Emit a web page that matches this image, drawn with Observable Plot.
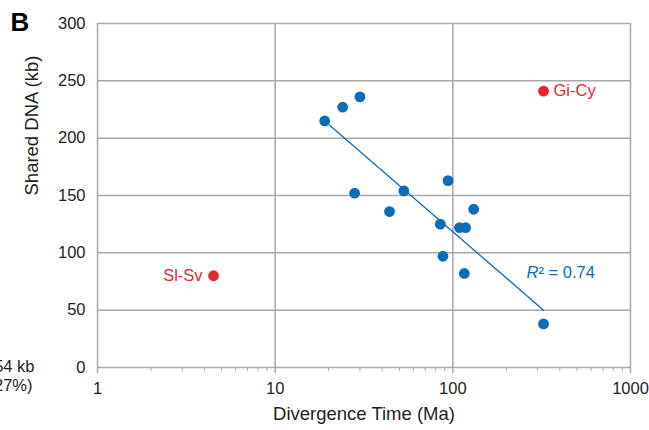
<!DOCTYPE html>
<html>
<head>
<meta charset="utf-8">
<script src="https://cdn.jsdelivr.net/npm/d3@7"></script>
<script src="https://cdn.jsdelivr.net/npm/@observablehq/plot@0.6"></script>
<style>
  html, body { margin: 0; padding: 0; background: #fff; }
  svg { display: block; }
</style>
</head>
<body>
<div id="chart"></div>
<script>
// Blue points: divergence time (Ma) vs shared DNA (kb)
const divergence = [19, 24, 30, 28, 44, 53, 94, 85, 88, 109, 118, 131, 116, 324];
const sharedDNA  = [215, 227, 236, 152, 136, 154, 163, 125, 97, 122, 122, 138, 82, 38];
// Outlier (red) points
const outlierNames = ["Gi-Cy", "Sl-Sv"];
const outlierX = [324, 4.5];
const outlierY = [241, 80];
// Regression line endpoints
const trendX = [19, 324];
const trendY = [215, 50];
const r2Value = "0.74";
// Ticks
const xTicks = [1, 10, 100, 1000];
const xMinorTicks = [2, 3, 4, 5, 6, 7, 8, 9, 20, 30, 40, 50, 60, 70, 80, 90, 200, 300, 400, 500, 600, 700, 800, 900];
const yTicks = [0, 50, 100, 150, 200, 250, 300];

const blue = "#0b6db7";
const red = "#e8262b";
const grid = "#a8a8a8";
const ink = "#231f20";

const points = divergence.map((x, i) => ({x, y: sharedDNA[i]}));
const outliers = outlierNames.map((n, i) => ({name: n, x: outlierX[i], y: outlierY[i]}));
const trend = trendX.map((x, i) => ({x, y: trendY[i]}));

const chart = Plot.plot({
  width: 649,
  height: 430,
  marginLeft: 97,
  marginRight: 19,
  marginTop: 23,
  marginBottom: 63,
  style: {fontFamily: "'Liberation Sans', Arial, Helvetica, sans-serif", fontSize: "16px", color: ink, background: "#fff"},
  x: {type: "log", domain: [1, 1000]},
  y: {domain: [0, 300]},
  marks: [
    Plot.ruleX(xTicks, {stroke: grid, strokeWidth: 1.5}),
    Plot.ruleY(yTicks, {stroke: grid, strokeWidth: 1.5}),
    Plot.axisX({ticks: xMinorTicks, tickFormat: () => "", tickSize: 4, stroke: grid, strokeWidth: 1, label: null}),
    Plot.axisX({ticks: xTicks, tickFormat: d => String(d), tickSize: 6, tickPadding: 9, stroke: grid, strokeWidth: 1.5, fontSize: 16.5, fill: ink, label: null}),
    Plot.axisY({ticks: yTicks, tickFormat: d => String(d), tickSize: 0, tickPadding: 12, fontSize: 16.5, fill: ink, label: null}),
    Plot.line(trend, {x: "x", y: "y", stroke: blue, strokeWidth: 1.3}),
    Plot.dot(points, {x: "x", y: "y", r: 5.4, fill: blue, stroke: "none"}),
    Plot.dot(outliers, {x: "x", y: "y", r: 5.4, fill: red, stroke: "none"}),
    Plot.text(outliers.filter(d => d.name === "Gi-Cy"), {x: "x", y: "y", text: "name", textAnchor: "start", dx: 10, fill: red, fontSize: 16.5}),
    Plot.text(outliers.filter(d => d.name === "Sl-Sv"), {x: "x", y: "y", text: "name", textAnchor: "end", dx: -11, fill: red, fontSize: 16.5}),
    Plot.text(["R"], {frameAnchor: "right", dx: -92, dy: 77, textAnchor: "end", fill: blue, fontSize: 16.5, fontStyle: "italic"}),
    Plot.text(["² = " + r2Value], {frameAnchor: "right", dx: -92, dy: 77, textAnchor: "start", fill: blue, fontSize: 16.5}),
    Plot.text(["Divergence Time (Ma)"], {frameAnchor: "bottom", lineAnchor: "middle", dy: 47, fontSize: 18.5, fill: ink}),
    Plot.text(["Shared DNA (kb)"], {frameAnchor: "left", dx: -65, rotate: -90, fontSize: 18.5, fill: ink}),
    Plot.text(["B"], {frameAnchor: "top-left", lineAnchor: "middle", dx: -87, dy: -1, textAnchor: "start", fontSize: 26, fontWeight: "bold", fill: "#000"}),
    Plot.text(["54 kb"], {frameAnchor: "bottom-left", lineAnchor: "middle", dx: -63, dy: -1, textAnchor: "end", fontSize: 16.5, fill: ink}),
    Plot.text(["(27%)"], {frameAnchor: "bottom-left", lineAnchor: "middle", dx: -65, dy: 18, textAnchor: "end", fontSize: 16.5, fill: ink})
  ]
});
document.getElementById("chart").appendChild(chart);
</script>
</body>
</html>
